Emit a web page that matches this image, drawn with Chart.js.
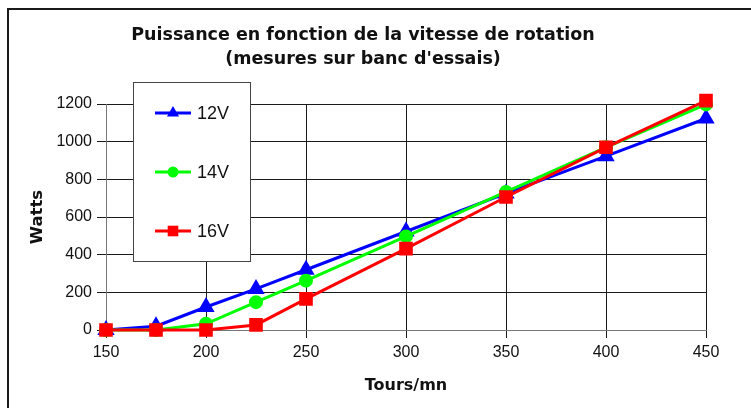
<!DOCTYPE html>
<html>
<head>
<meta charset="utf-8">
<script src="https://cdn.jsdelivr.net/npm/chart.js@4/dist/chart.umd.min.js"></script>
<style>
  html, body { margin: 0; padding: 0; background: #fff; }
  #wrap { width: 751px; height: 408px; }
</style>
</head>
<body>
<div id="wrap"><canvas id="puissance" width="751" height="408"></canvas></div>
<script>
// Tours/mn mesurés
var rpm = [150, 175, 200, 225, 250, 300, 350, 400, 450];
// Watts par tension
var watts12 = [0, 20, 122, 218, 320, 523, 725, 923, 1123];
var watts14 = [0, 0, 33, 148, 262, 497, 733, 970, 1198];
var watts16 = [0, 0, 0, 27, 165, 432, 706, 970, 1218];
var seriesLabels = ["12V", "14V", "16V"];

function toPoints(values) {
    return rpm.map(function (r, i) { return { x: r, y: values[i] }; });
}

// cadre + fond
var framePlugin = {
    id: 'frame',
    beforeDraw: function (chart) {
        var ctx = chart.ctx;
        ctx.save();
        ctx.fillStyle = '#fff';
        ctx.fillRect(0, 0, chart.width, chart.height);
        ctx.strokeStyle = '#1a1a1a';
        ctx.lineWidth = 2;
        ctx.beginPath();
        ctx.moveTo(8, chart.height);
        ctx.lineTo(8, 9);
        ctx.lineTo(chart.width, 9);
        ctx.stroke();
        ctx.restore();
    }
};

function drawMarker(ctx, style, r, x, y) {
    ctx.beginPath();
    if (style === 'triangle') {
        ctx.moveTo(x, y - r);
        ctx.lineTo(x + r * 0.866, y + r / 2);
        ctx.lineTo(x - r * 0.866, y + r / 2);
        ctx.closePath();
    } else if (style === 'rect') {
        var s = r * Math.SQRT1_2;
        ctx.rect(x - s, y - s, 2 * s, 2 * s);
    } else {
        ctx.arc(x, y, r, 0, Math.PI * 2);
    }
    ctx.fill();
}

// légende encadrée dans la zone du graphique
var boxLegend = {
    id: 'boxLegend',
    afterDraw: function (chart) {
        var ctx = chart.ctx;
        var rows = [113, 172, 231];
        ctx.save();
        ctx.fillStyle = '#fff';
        ctx.strokeStyle = '#444';
        ctx.lineWidth = 1;
        ctx.fillRect(133.5, 82.5, 117, 179);
        ctx.strokeRect(133.5, 82.5, 117, 179);
        chart.data.datasets.forEach(function (ds, i) {
            var y = rows[i];
            ctx.strokeStyle = ds.borderColor;
            ctx.lineWidth = 3;
            ctx.beginPath();
            ctx.moveTo(155, y);
            ctx.lineTo(191, y);
            ctx.stroke();
            ctx.fillStyle = ds.backgroundColor;
            drawMarker(ctx, ds.pointStyle, ds.pointRadius, 173, y);
            ctx.fillStyle = '#111';
            ctx.font = '18px "Liberation Sans", Arial, sans-serif';
            ctx.textAlign = 'left';
            ctx.textBaseline = 'middle';
            ctx.fillText(ds.label, 197, y + 1);
        });
        ctx.restore();
    }
};

new Chart(document.getElementById('puissance'), {
    type: 'line',
    data: {
        datasets: [
            {
                label: seriesLabels[0],
                data: toPoints(watts12),
                borderColor: '#0000FF',
                backgroundColor: '#0000FF',
                borderWidth: 3,
                pointStyle: 'triangle',
                pointRadius: 7,
                clip: false,
                order: 2
            }, {
                label: seriesLabels[1],
                data: toPoints(watts14),
                borderColor: '#00FF00',
                backgroundColor: '#00FF00',
                borderWidth: 3,
                pointStyle: 'circle',
                pointRadius: 5.5,
                clip: false,
                order: 1
            }, {
                label: seriesLabels[2],
                data: toPoints(watts16),
                borderColor: '#FF0000',
                backgroundColor: '#FF0000',
                borderWidth: 3,
                pointStyle: 'rect',
                pointRadius: 7.5,
                clip: false,
                order: 0
            }
        ]
    },
    options: {
        responsive: false,
        animation: false,
        layout: { padding: { left: 20, right: 45, top: 23, bottom: 0 } },
        plugins: {
            legend: { display: false },
            tooltip: { enabled: false },
            title: {
                display: true,
                text: ['Puissance en fonction de la vitesse de rotation', "(mesures sur banc d'essais)"],
                color: '#111',
                font: { family: '"DejaVu Sans", Verdana, sans-serif', size: 17.5, weight: 'bold', lineHeight: 1.4 },
                padding: { top: 0, bottom: 32 }
            }
        },
        scales: {
            x: {
                type: 'linear',
                min: 150,
                max: 450,
                afterFit: function (s) { s.height = 78; },
                ticks: {
                    stepSize: 50,
                    color: '#111',
                    padding: 5,
                    font: { family: '"Liberation Sans", Arial, sans-serif', size: 16 }
                },
                grid: { color: '#1a1a1a', lineWidth: 1, tickLength: 8 },
                border: { color: '#777', width: 1 },
                title: {
                    display: true,
                    text: 'Tours/mn',
                    color: '#111',
                    font: { family: '"DejaVu Sans", Verdana, sans-serif', size: 16, weight: 'bold' },
                    padding: { top: 0, bottom: 13 }
                }
            },
            y: {
                min: 0,
                max: 1200,
                afterFit: function (s) { s.width = 86; },
                ticks: {
                    stepSize: 200,
                    color: '#111',
                    padding: 5,
                    callback: function (v) { return String(v); },
                    font: { family: '"Liberation Sans", Arial, sans-serif', size: 16 }
                },
                grid: { color: '#1a1a1a', lineWidth: 1, tickLength: 9 },
                border: { color: '#777', width: 1 },
                title: {
                    display: true,
                    text: 'Watts',
                    color: '#111',
                    font: { family: '"DejaVu Sans", Verdana, sans-serif', size: 16.5, weight: 'bold' },
                    padding: { top: 8, bottom: 0 }
                }
            }
        }
    },
    plugins: [framePlugin, boxLegend]
});
</script>
</body>
</html>
